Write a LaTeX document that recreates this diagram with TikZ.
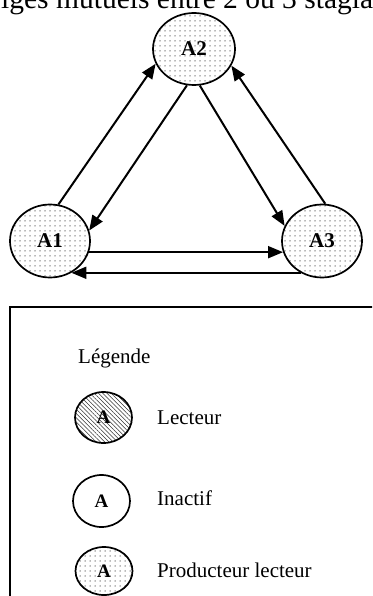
\documentclass[tikz,border=0pt]{standalone}
\usepackage{fontspec}
\setmainfont{Liberation Serif}
\usetikzlibrary{shapes.geometric,patterns.meta,arrows.meta}
\tikzset{
	agent/.style={ellipse, draw, line width=1.7pt, inner sep=0pt, minimum width=80pt, minimum height=73pt, font=\fontsize{21}{24}\selectfont\bfseries},
	prodlect/.style={pattern={Dots[distance=5pt,radius=.75pt]}, pattern color=black!55},
	lecteur/.style={pattern={Lines[angle=-45,distance=3pt,line width=.6pt]}, pattern color=black!80},
	petit/.style={agent, minimum width=57pt, minimum height=51pt, font=\fontsize{19}{22}\selectfont\bfseries},
	echange/.style={line width=2pt, -{Triangle[length=15pt,width=12pt]}},
	texte/.style={anchor=base west, inner sep=0pt, font=\fontsize{21}{24}\selectfont}
}
\begin{document}
\begin{tikzpicture}[x=1pt,y=-1pt]
	\useasboundingbox (0,0) rectangle (372,596);
	\begin{scope}
	\clip (0,0) rectangle (372,596);
	%Titre
	\node [anchor=base west, inner sep=0pt, font=\fontsize{29.5}{32}\selectfont] (titre) at (1,9) {iges mutuels entre 2 ou 3 stagiai};
	%Cadre legende
	\draw [line width=1.7pt] (380,307) -- (10,307) -- (10,610);
	\end{scope}
	%Stagiaires
	\node [agent, prodlect, minimum width=82pt, minimum height=72pt] (A2) at (194,49) {A2};
	\node [agent, prodlect] (A1) at (50,241) {A1};
	\node [agent, prodlect] (A3) at (322,241) {A3};
	%Echanges
	\draw [echange] (A1.77) -- (A2.201);
	\draw [echange] (A2.259) -- (A1.15);
	\draw [echange] (A2.279) -- (A3.158);
	\draw [echange] (A3.85) -- (A2.336);
	\draw [echange] (A1.-16) -- (A3.196);
	\draw [echange] (A3.236) -- (A1.-56);
	%Legende
	\node [texte] (leg) at (78,363) {Légende};
	\node [petit, lecteur] (L) at (103.5,417.5) {A};
	\node [texte] (tL) at (157,424) {Lecteur};
	\node [petit, minimum height=52pt] (I) at (101.5,501) {A};
	\node [texte] (tI) at (157,505) {Inactif};
	\node [petit, prodlect, minimum height=48pt] (P) at (104,571) {A};
	\node [texte] (tP) at (157,577) {Producteur lecteur};
\end{tikzpicture}
\end{document}
